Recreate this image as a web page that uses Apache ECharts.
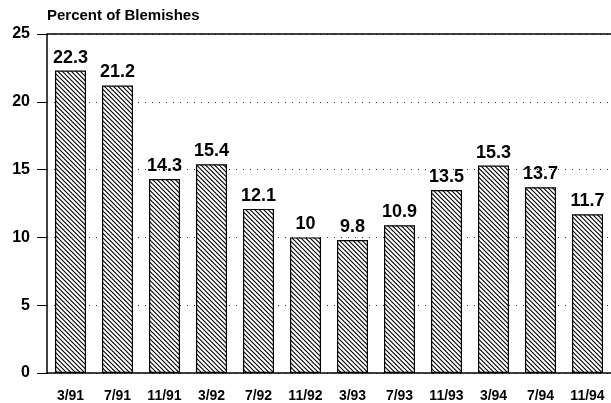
<!DOCTYPE html>
<html>
<head>
<meta charset="utf-8">
<script src="https://cdn.jsdelivr.net/npm/echarts@6/dist/echarts.min.js"></script>
<style>
  html, body { margin: 0; padding: 0; background: #fff; }
  #chart { width: 611px; height: 403px; }
</style>
</head>
<body>
<div id="chart"></div>
<script>
// data
const periods = ['3/91', '7/91', '11/91', '3/92', '7/92', '11/92', '3/93', '7/93', '11/93', '3/94', '7/94', '11/94'];
const blemishes = [22.3, 21.2, 14.3, 15.4, 12.1, 10, 9.8, 10.9, 13.5, 15.3, 13.7, 11.7];
const yTicks = [0, 5, 10, 15, 20, 25];

// hatch pattern (\\\\) for the bars, tile of 9px holding two stripes
function makeHatch() {
  const n = 9;
  const c = document.createElement('canvas');
  c.width = n;
  c.height = n;
  const ctx = c.getContext('2d');
  ctx.fillStyle = '#fff';
  ctx.fillRect(0, 0, n, n);
  ctx.strokeStyle = '#000';
  ctx.lineWidth = 1.1;
  ctx.beginPath();
  [-9, -4.5, 0, 4.5, 9].forEach(off => {
    ctx.moveTo(off - 1, -1);
    ctx.lineTo(off + n + 1, n + 1);
  });
  ctx.stroke();
  return c;
}

const chart = echarts.init(document.getElementById('chart'));
const font = 'Liberation Sans, Arial, sans-serif';

chart.setOption({
  animation: false,
  title: {
    text: 'Percent of Blemishes',
    left: 42,
    top: 3,
    textStyle: { fontFamily: font, fontSize: 15, fontWeight: 'bold', color: '#000' }
  },
  grid: { left: 47, right: 0, top: 34, bottom: 30 },
  xAxis: {
    type: 'category',
    data: periods,
    axisLine: { lineStyle: { color: '#000', width: 1.5 } },
    axisTick: { alignWithLabel: true, length: 7, lineStyle: { color: '#000' } },
    axisLabel: { fontFamily: font, fontSize: 14, fontWeight: 'bold', color: '#000', margin: 16 }
  },
  yAxis: {
    type: 'value',
    min: 0,
    max: 25,
    interval: 5,
    axisLine: { show: true, lineStyle: { color: '#000', width: 1.5 } },
    axisTick: { show: true, length: 10, lineStyle: { color: '#000' } },
    axisLabel: {
      fontFamily: font, fontSize: 16, fontWeight: 'bold', color: '#000', margin: 17,
      formatter: v => yTicks.indexOf(v) >= 0 ? String(v) : ''
    },
    splitLine: {
      show: true,
      lineStyle: { color: '#333', type: [1, 6], width: 1 }
    }
  },
  series: [{
    type: 'bar',
    data: blemishes,
    barWidth: 31,
    itemStyle: {
      color: { image: makeHatch(), repeat: 'repeat' },
      borderColor: '#000',
      borderWidth: 1.2
    },
    label: {
      show: true,
      position: 'top',
      distance: 4,
      fontFamily: font,
      fontSize: 18,
      fontWeight: 'bold',
      color: '#000'
    },
    markLine: {
      silent: true,
      symbol: 'none',
      label: { show: false },
      lineStyle: { color: '#000', type: 'solid', width: 1.5 },
      data: [{ yAxis: 25 }]
    }
  }]
});
</script>
</body>
</html>
